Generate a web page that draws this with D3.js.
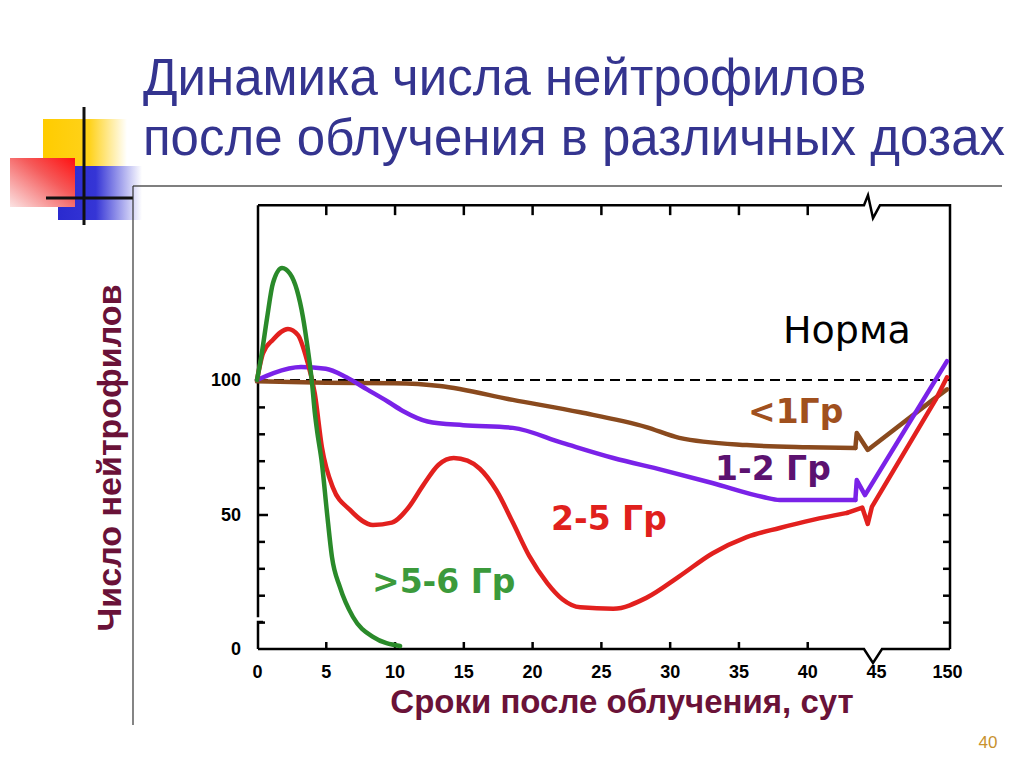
<!DOCTYPE html>
<html>
<head>
<meta charset="utf-8">
<script src="https://cdn.jsdelivr.net/npm/d3@7"></script>
<style>
  body { margin: 0; background: #fff; }
</style>
</head>
<body>
<script>
// days after irradiation / neutrophil count (% of norm)
const xTickDays = [0, 5, 10, 15, 20, 25, 30, 35, 40, 45, 150];
const xTickLabels = ["0", "5", "10", "15", "20", "25", "30", "35", "40", "45", "150"];
const yTickValues = [10, 20, 30, 40, 50, 60, 70, 80, 90];
const yLabelValues = [0, 50, 100];
const normValue = 100;

// >5-6 Gy
const dose56 = [[0, 100], [0.35, 110], [0.73, 123], [1.16, 136], [1.82, 141.6], [2.4, 139.5],
  [2.9, 133.5], [3.34, 123.4], [3.7, 111.2], [4.0, 99], [4.2, 88], [4.36, 81.4], [4.72, 69],
  [5.09, 50.6], [5.45, 34.2], [6.03, 23], [6.98, 11.9], [8.43, 4.5], [10.4, 1.1]];

// 2-5 Gy
const dose25 = [[0, 100], [0.44, 110], [1.16, 115], [2.25, 119], [2.98, 116.7], [3.63, 107.4],
  [4.2, 95], [4.72, 75], [5.52, 60], [6.76, 51.7], [8.43, 46.1], [9.8, 47], [11, 52.5],
  [12.1, 61], [13.2, 68.5], [14.3, 71], [15.3, 70], [16.2, 67], [17.4, 59], [18.6, 47], [19.8, 34.5],
  [21.1, 24.5], [22.2, 18.5], [23.5, 15.5], [25.9, 15], [28.3, 19], [30.7, 27], [33.1, 35.5],
  [35.6, 41.6], [38, 45], [40.4, 48], [42.9, 50.6]];
const dose25Tail = [[42.9, 50.6], [44.0, 52.6], [44.4, 46.5], [44.7, 52.8], [133, 92.6], [150, 101]];

// 1-2 Gy
const dose12 = [[0, 100], [1.2, 102.6], [3.2, 104.8], [5, 104.2], [6.5, 101], [8, 96.5],
  [9.5, 92], [10.6, 88.5], [12.4, 84.6], [15, 83.2], [18.6, 82.2],
  [22.2, 76.6], [25.9, 71], [29.5, 66.5], [33.1, 61.7], [36.8, 56.5], [38, 55.4], [43.5, 55.4]];
const dose12Tail = [[43.5, 55.4], [43.6, 62.8], [44.2, 57.2], [150, 107]];

// <1 Gy
const dose1 = [[0, 99.5], [5, 99], [10, 98.8], [13.3, 97.8], [18.6, 92.6], [23.5, 88],
  [28.3, 82.5], [30.7, 78.5], [35.6, 75.8], [40, 75], [43.5, 74.7]];
const dose1Tail = [[43.5, 74.7], [43.6, 80.3], [44.4, 74], [129, 92.6], [150, 96.5]];

const W = 1024, H = 767;
const svg = d3.select("body").append("svg")
  .attr("width", W)
  .attr("height", H)
  .style("font-family", "'Liberation Sans', Arial, sans-serif");

// gradients for the corner decoration
const defs = svg.append("defs");
function grad(id, x1, y1, x2, y2, stops) {
  const g = defs.append("linearGradient").attr("id", id)
    .attr("x1", x1).attr("y1", y1).attr("x2", x2).attr("y2", y2);
  stops.forEach(s => g.append("stop").attr("offset", s[0]).attr("stop-color", s[1]));
}
grad("gYellow", 0, 0, 1, 0, [[0, "#FFCC00"], [0.55, "#FFD21A"], [1, "#FFFFFF"]]);
grad("gBlue", 0, 0, 1, 0, [[0, "#2A2ACF"], [0.45, "#3535D6"], [1, "#FFFFFF"]]);
grad("gRed", 0, 1, 1, 0, [[0, "#FBE3E3"], [0.6, "#F55A5A"], [1, "#FF1010"]]);

const deco = svg.append("g");
deco.append("rect").attr("x", 43).attr("y", 119).attr("width", 84).attr("height", 48).attr("fill", "url(#gYellow)");
deco.append("rect").attr("x", 58).attr("y", 166).attr("width", 84).attr("height", 54).attr("fill", "url(#gBlue)");
deco.append("rect").attr("x", 10).attr("y", 158).attr("width", 65).attr("height", 49).attr("fill", "url(#gRed)");
deco.append("line").attr("x1", 84).attr("y1", 107).attr("x2", 84).attr("y2", 225)
  .attr("stroke", "#111").attr("stroke-width", 3);
deco.append("line").attr("x1", 46).attr("y1", 198).attr("x2", 133).attr("y2", 198)
  .attr("stroke", "#111").attr("stroke-width", 3);

// picture border
svg.append("line").attr("x1", 133).attr("y1", 186).attr("x2", 1002).attr("y2", 186)
  .attr("stroke", "#555").attr("stroke-width", 1.5);
svg.append("line").attr("x1", 133).attr("y1", 186).attr("x2", 133).attr("y2", 725)
  .attr("stroke", "#333").attr("stroke-width", 1.2);

// title
const title = svg.append("g")
  .attr("fill", "#34348F")
  .style("font-size", "51px");
title.append("text").attr("x", 143).attr("y", 95).text("Динамика числа нейтрофилов");
title.append("text").attr("x", 143).attr("y", 155).text("после облучения в различных дозах");

// scales
const x = d3.scaleLinear().domain([0, 45, 150]).range([257, 876, 947]);
const y = d3.scaleLinear().domain([0, 100]).range([649, 380]);

const pLeft = x(0) + 1, pRight = x(150) + 3, pTop = y(165), pBottom = y(0);
const xb = x(45);

const frame = svg.append("g").attr("fill", "none").attr("stroke", "#000")
  .attr("stroke-width", 2.5).attr("stroke-linejoin", "miter");
// top edge with break
frame.append("path").attr("d", d3.line()([
  [pLeft, pTop], [xb - 12, pTop], [xb - 8, pTop - 10], [xb - 3, pTop + 13], [xb + 4, pTop], [pRight, pTop], [pRight, pBottom]
]));
// bottom edge with break
frame.append("path").attr("d", d3.line()([
  [pLeft, pBottom], [xb - 12, pBottom], [xb - 3, pBottom + 14], [xb + 6, pBottom], [pRight, pBottom]
]));
// left edge with a small break near zero
frame.append("path").attr("d", d3.line()([[pLeft, pTop], [pLeft, y(11.8)]]));
frame.append("path").attr("d", d3.line()([[pLeft + 5, y(10)], [pLeft, y(10)], [pLeft, pBottom]]));

// axes
const axisStyle = g => {
  g.select(".domain").remove();
  g.selectAll(".tick line").attr("stroke", "#000").attr("stroke-width", 2.5);
  g.selectAll(".tick text").attr("fill", "#000")
    .style("font-size", "18px").style("font-weight", "bold")
    .style("font-family", "'Liberation Sans', Arial, sans-serif");
};

svg.append("g")
  .attr("transform", `translate(0,${pBottom})`)
  .call(d3.axisBottom(x).tickValues(xTickDays).tickFormat((d, i) => xTickLabels[i])
    .tickSize(-7).tickPadding(16))
  .call(axisStyle)
  .call(g => g.selectAll(".tick").filter(d => d === 0 || d === 45 || d === 150).select("line").remove());

svg.append("g")
  .attr("transform", `translate(0,${pTop})`)
  .call(d3.axisTop(x).tickValues(xTickDays.slice(1, 9)).tickFormat("").tickSize(-10))
  .call(axisStyle);

svg.append("g")
  .attr("transform", `translate(${pLeft},0)`)
  .call(d3.axisRight(y).tickValues(yTickValues).tickFormat("").tickSize(7))
  .call(axisStyle)
  .call(g => g.selectAll(".tick").filter(d => d === 50).select("line").attr("x2", 10));

svg.append("g")
  .attr("transform", `translate(${pLeft},0)`)
  .call(d3.axisLeft(y).tickValues(yLabelValues).tickSize(0).tickPadding(17))
  .call(axisStyle);

svg.append("g")
  .attr("transform", `translate(${pRight},0)`)
  .call(d3.axisLeft(y).tickValues(yTickValues).tickFormat("").tickSize(7))
  .call(axisStyle);

// norm line
svg.append("line")
  .attr("x1", pLeft).attr("x2", pRight)
  .attr("y1", y(normValue)).attr("y2", y(normValue))
  .attr("stroke", "#000").attr("stroke-width", 2.2).attr("stroke-dasharray", "10,6");

// curves
const smooth = d3.line().x(d => x(d[0])).y(d => y(d[1])).curve(d3.curveMonotoneX);
const straight = d3.line().x(d => x(d[0])).y(d => y(d[1]));

const series = [
  { main: dose1, tail: dose1Tail, color: "#8A4A1E" },
  { main: dose12, tail: dose12Tail, color: "#7A22E8" },
  { main: dose25, tail: dose25Tail, color: "#E2201E" },
  { main: dose56, tail: null, color: "#2A8A2A" }
];

const curves = svg.append("g").attr("fill", "none")
  .attr("stroke-width", 4.5).attr("stroke-linejoin", "round").attr("stroke-linecap", "round");
series.forEach(s => {
  curves.append("path").attr("d", smooth(s.main)).attr("stroke", s.color);
  if (s.tail) curves.append("path").attr("d", straight(s.tail)).attr("stroke", s.color);
});

// curve labels
const lab = svg.append("g").style("font-family", "'DejaVu Sans', Verdana, sans-serif");
lab.append("text").attr("x", 783).attr("y", 343).style("font-size", "38px").attr("fill", "#000").text("Норма");
const doseLabels = [
  { text: "<1Гр", x: 748, y: 423, color: "#A0501E" },
  { text: "1-2 Гр", x: 715, y: 480, color: "#5C1270" },
  { text: "2-5 Гр", x: 551, y: 530, color: "#E0201C" },
  { text: ">5-6 Гр", x: 372, y: 593, color: "#3B9A3B" }
];
doseLabels.forEach(d => {
  lab.append("text").attr("x", d.x).attr("y", d.y)
    .style("font-size", "33px").style("font-weight", "bold")
    .attr("fill", d.color).text(d.text);
});

// axis titles
svg.append("text")
  .attr("x", 622).attr("y", 713)
  .attr("text-anchor", "middle")
  .attr("fill", "#6A1238")
  .style("font-size", "33px").style("font-weight", "bold")
  .text("Сроки после облучения, сут");

svg.append("text")
  .attr("transform", "translate(121,458) rotate(-90)")
  .attr("text-anchor", "middle")
  .attr("fill", "#6A1238")
  .style("font-size", "34px").style("font-weight", "bold")
  .text("Число нейтрофилов");

// slide number
svg.append("text")
  .attr("x", 988).attr("y", 748)
  .attr("text-anchor", "middle")
  .attr("fill", "#C8922E")
  .style("font-size", "17px")
  .text("40");
</script>
</body>
</html>
